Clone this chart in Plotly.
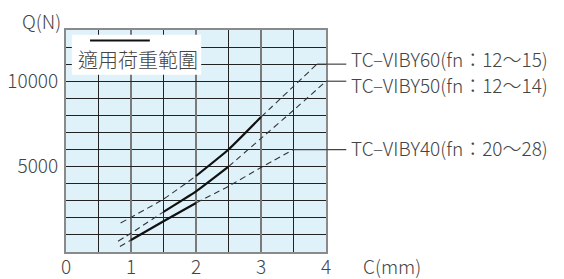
import plotly.graph_objects as go

# ---- data ----
x_tick_vals = [0, 1, 2, 3, 4]
y_tick_vals = [5000, 10000]
y_tick_text = ["5000", "10000"]
x_max = 4
y_max = 13000

labels = ["TC–VIBY60(fn：12～15)", "TC–VIBY50(fn：12～14)", "TC–VIBY40(fn：20～28)"]

c60 = [0.84, 1.5, 2.0, 2.5, 3.0, 3.5, 3.86]
q60 = [1700, 3100, 4450, 6000, 7900, 9700, 11000]
range60 = [2.0, 3.0]

c50 = [0.80, 1.0, 1.5, 2.0, 2.5, 3.0, 3.5, 4.0]
q50 = [630, 1100, 2350, 3550, 5000, 6650, 8300, 10000]
range50 = [1.5, 2.5]

c40 = [0.83, 1.0, 1.5, 2.0, 2.5, 3.0, 3.5]
q40 = [320, 700, 1800, 2870, 3850, 4950, 6000]
range40 = [1.0, 2.0]

legend_text = "適用荷重範圍"

series = [(c60, q60, range60), (c50, q50, range50), (c40, q40, range40)]

FONT = "Noto Sans CJK TC, Noto Sans CJK JP, Noto Sans, sans-serif"
TXT = "#444444"
LINE = "#222222"
W8 = 300
FS = 19

fig = go.Figure()


def segs(xs, ys, lo, hi):
    a = [(x, y) for x, y in zip(xs, ys) if x <= lo]
    b = [(x, y) for x, y in zip(xs, ys) if lo <= x <= hi]
    c = [(x, y) for x, y in zip(xs, ys) if x >= hi]
    return a, b, c


for xs, ys, (lo, hi) in series:
    a, b, c = segs(xs, ys, lo, hi)
    for seg, solid in ((a, False), (b, True), (c, False)):
        if len(seg) < 2:
            continue
        fig.add_trace(go.Scatter(
            x=[p[0] for p in seg], y=[p[1] for p in seg], mode="lines",
            line=dict(color="#111111" if solid else "#333333",
                      width=2.2 if solid else 1.1,
                      dash="solid" if solid else "6px,4px",
                      shape="spline", smoothing=0.5),
            showlegend=False, hoverinfo="skip"))

shapes = []
annotations = []
label_x = 1.088
label_shift = [6, -3, 2]
for (xs, ys, _), lab, ysh in zip(series, labels, label_shift):
    shapes.append(dict(type="line", xref="paper", yref="paper",
                       x0=xs[-1] / x_max, x1=1.078,
                       y0=ys[-1] / y_max, y1=ys[-1] / y_max,
                       line=dict(color="#444444", width=1.2), layer="above"))
    annotations.append(dict(text=lab, xref="paper", yref="y", x=label_x, y=ys[-1],
                            xanchor="left", yanchor="middle", yshift=ysh, showarrow=False,
                            font=dict(family=FONT, size=19, color=TXT, weight=W8)))

# legend box
shapes.append(dict(type="rect", xref="x", yref="y", x0=0.09, x1=2.08, y0=10380, y1=12720,
                   fillcolor="white", line=dict(width=0), layer="above"))
shapes.append(dict(type="line", xref="x", yref="y", x0=0.37, x1=1.29, y0=12380, y1=12380,
                   line=dict(color="#111111", width=2), layer="above"))
annotations.append(dict(text=legend_text, xref="x", yref="y", x=1.10, y=11250,
                        xanchor="center", yanchor="middle", showarrow=False,
                        font=dict(family=FONT, size=20, color=TXT, weight=W8)))

annotations.append(dict(text="Q(N)", xref="paper", yref="paper", x=-0.178, y=1.042,
                        xanchor="left", yanchor="middle", showarrow=False,
                        font=dict(family=FONT, size=FS, color=TXT, weight=W8)))
annotations.append(dict(text="C(mm)", xref="paper", yref="paper", x=1.135, y=-0.062,
                        xanchor="left", yanchor="middle", showarrow=False,
                        font=dict(family=FONT, size=FS, color=TXT, weight=W8)))

# page body has an 8px default margin: shrink the figure so the plot lands in place
fig.update_layout(
    width=556, height=271,
    margin=dict(l=58, r=238, t=22, b=26.5, autoexpand=False),
    paper_bgcolor="white", plot_bgcolor="#dff2fa",
    shapes=shapes, annotations=annotations,
    font=dict(family=FONT, size=FS, color=TXT, weight=W8),
    xaxis=dict(range=[0, x_max], tickvals=x_tick_vals, showgrid=True, automargin=False,
               gridcolor="#7a7a7a", gridwidth=2, zeroline=False,
               showline=True, mirror=True, linecolor="#8a8a8a", linewidth=2,
               ticks="", ticklabelstandoff=-3,
               minor=dict(dtick=0.5, tick0=0, showgrid=True, gridcolor=LINE, gridwidth=1.3),
               tickfont=dict(family=FONT, size=FS, color=TXT, weight=W8), fixedrange=True),
    yaxis=dict(range=[0, y_max], tickvals=y_tick_vals, ticktext=y_tick_text, showgrid=True,
               automargin=False,
               gridcolor=LINE, gridwidth=1.3, zeroline=False,
               showline=True, mirror=True, linecolor="#8a8a8a", linewidth=2,
               ticks="", ticklabelstandoff=2,
               minor=dict(dtick=1000, tick0=0, showgrid=True, gridcolor=LINE, gridwidth=1.3),
               tickfont=dict(family=FONT, size=FS, color=TXT, weight=W8), fixedrange=True),
)

fig.write_html("out.html")
